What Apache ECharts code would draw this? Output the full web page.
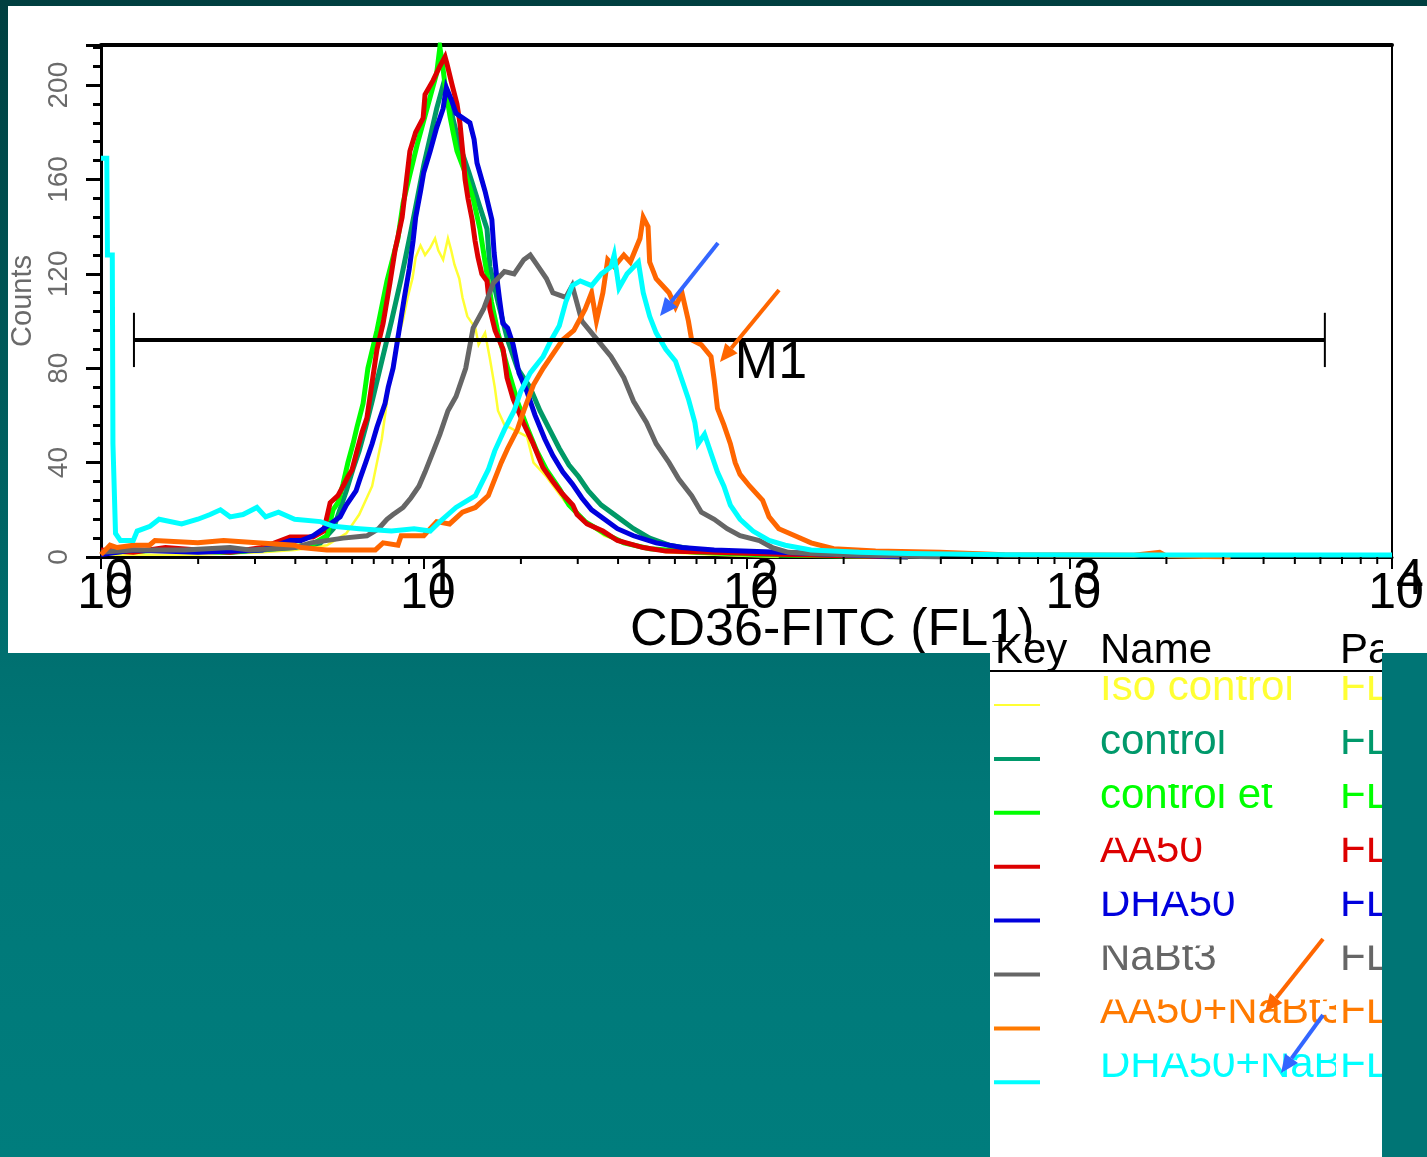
<!DOCTYPE html>
<html><head><meta charset="utf-8">
<script src="https://cdn.jsdelivr.net/npm/echarts@6/dist/echarts.min.js"></script>
<style>
html,body{margin:0;padding:0;width:1427px;height:1157px;overflow:hidden;
background:linear-gradient(180deg,#003f40 0%,#006565 45%,#007878 65%,#007d7d 100%);}
#c{width:1427px;height:1157px;}
</style></head><body><div id="c"></div>
<script>
// ---- data: [log10(FL1), count] ----
const isoControl = [[0.0,1],[0.3,1],[0.5,2],[0.6,3],[0.7,5],[0.76,10],[0.8,18],[0.84,30],[0.87,50],[0.895,75],[0.91,86],[0.92,93],[0.935,100],[0.95,110],[0.965,118],[0.975,127],[0.99,132],[1.004,128],[1.02,131],[1.035,135],[1.045,130],[1.06,126],[1.075,135],[1.085,130],[1.095,124],[1.11,118],[1.12,110],[1.135,102],[1.16,97],[1.17,90],[1.19,95],[1.205,84],[1.22,72],[1.23,62],[1.25,56],[1.32,51],[1.34,40],[1.38,34],[1.44,23],[1.5,15],[1.56,9],[1.65,5],[1.75,2],[1.9,1],[2.1,0]];
const control = [[0.0,2],[0.2,3],[0.4,2],[0.6,4],[0.68,6],[0.72,12],[0.74,20],[0.76,28],[0.78,37],[0.8,45],[0.82,55],[0.84,66],[0.87,83],[0.9,100],[0.93,118],[0.96,138],[0.98,152],[1.0,166],[1.02,178],[1.04,190],[1.06,200],[1.075,196],[1.09,186],[1.11,175],[1.14,163],[1.17,150],[1.196,139],[1.205,123],[1.23,108],[1.26,92],[1.29,80],[1.329,72],[1.36,62],[1.39,54],[1.42,46],[1.45,39],[1.48,34],[1.51,28],[1.55,22],[1.6,17],[1.65,12],[1.7,8],[1.76,5],[1.85,3],[2.0,2],[2.2,1],[2.5,0]];
const controlEt = [[0.0,2],[0.2,3],[0.4,2],[0.55,4],[0.65,5],[0.7,9],[0.719,20],[0.734,23],[0.75,31],[0.765,40],[0.781,48],[0.793,55],[0.812,65],[0.827,80],[0.855,96],[0.886,117],[0.92,135],[0.936,150],[0.957,162],[0.98,175],[1.0,185],[1.02,195],[1.04,205],[1.05,216],[1.057,210],[1.066,200],[1.081,187],[1.091,180],[1.103,172],[1.128,163],[1.153,152],[1.174,139],[1.19,125],[1.21,108],[1.23,95],[1.26,80],[1.29,66],[1.32,55],[1.35,45],[1.38,37],[1.42,29],[1.45,22],[1.5,15],[1.56,10],[1.62,6],[1.7,3.5],[1.85,2],[2.05,1],[2.3,0.4],[2.5,0]];
const aa50 = [[0.0,3],[0.1,2],[0.2,4],[0.3,3],[0.4,2],[0.5,4],[0.586,8.5],[0.657,8.5],[0.69,11],[0.71,23],[0.734,26],[0.75,30],[0.765,34],[0.778,37],[0.793,45],[0.809,53],[0.824,59],[0.84,74],[0.855,88],[0.874,99],[0.895,116],[0.911,130],[0.933,144],[0.957,172],[0.975,180],[0.998,186],[1.004,196],[1.029,202],[1.05,208],[1.066,212],[1.072,209],[1.088,200],[1.103,192],[1.112,184],[1.122,170],[1.128,160],[1.137,152],[1.15,143],[1.159,134],[1.168,127],[1.18,120],[1.196,117],[1.205,105],[1.221,96],[1.246,88],[1.258,76],[1.277,67],[1.308,57],[1.339,48],[1.369,38],[1.4,32],[1.428,27],[1.462,22],[1.475,18],[1.506,14],[1.555,11],[1.6,7],[1.68,4],[1.75,2.5],[1.9,2],[2.1,1.2],[2.3,0.5],[2.5,0]];
const dha50 = [[0.0,1],[0.05,2],[0.1,3],[0.3,2],[0.5,3],[0.586,7],[0.62,7],[0.657,9],[0.7,13],[0.741,17],[0.76,22],[0.79,28],[0.802,33],[0.82,40],[0.84,48],[0.855,55],[0.88,65],[0.89,72],[0.905,80],[0.92,93],[0.94,110],[0.955,122],[0.967,134],[0.975,144],[0.99,155],[1.0,163],[1.02,172],[1.04,182],[1.06,190],[1.07,199],[1.085,194],[1.1,188],[1.143,184],[1.156,177],[1.165,167],[1.19,155],[1.211,143],[1.218,129],[1.225,120],[1.235,109],[1.245,99],[1.26,97],[1.277,90],[1.295,78],[1.32,70],[1.345,60],[1.375,50],[1.4,43],[1.431,36],[1.46,31],[1.49,25],[1.52,20],[1.56,16],[1.6,12],[1.65,9],[1.72,6],[1.8,4],[1.9,3],[2.1,2],[2.3,1],[2.5,0]];
const nabt3 = [[0.0,2],[0.1,3],[0.26,3],[0.4,4],[0.46,3],[0.6,4],[0.65,6],[0.75,8],[0.824,9],[0.86,12],[0.886,16],[0.905,18],[0.936,21],[0.96,25],[0.985,30],[1.004,36],[1.03,45],[1.05,52],[1.075,62],[1.1,68],[1.13,80],[1.153,97],[1.185,105],[1.215,116],[1.25,121],[1.28,120],[1.31,126],[1.33,128],[1.35,124],[1.38,118],[1.4,112],[1.44,110],[1.46,115],[1.49,100],[1.52,95],[1.55,90],[1.58,85],[1.62,76],[1.65,66],[1.69,57],[1.72,48],[1.76,40],[1.79,33],[1.83,26],[1.86,19],[1.9,16],[1.94,12],[1.98,9],[2.04,7],[2.08,4],[2.13,2],[2.2,1.5],[2.3,1],[2.45,0.5],[2.6,0]];
const aa50Nabt3 = [[0.0,1],[0.028,5],[0.05,4],[0.1,5],[0.15,5],[0.167,7],[0.3,6],[0.38,7],[0.483,6],[0.6,5],[0.62,4],[0.7,3],[0.85,3],[0.874,6],[0.92,5],[0.93,9],[1.0,9],[1.04,15],[1.08,14],[1.12,19],[1.16,21],[1.2,26],[1.22,33],[1.24,40],[1.26,46],[1.29,54],[1.31,62],[1.34,73],[1.37,80],[1.4,86],[1.43,92],[1.465,96],[1.5,105],[1.52,112],[1.535,100],[1.555,112],[1.57,126],[1.59,123],[1.62,128],[1.64,125],[1.67,135],[1.68,144],[1.695,140],[1.7,125],[1.72,118],[1.76,112],[1.78,106],[1.8,112],[1.82,100],[1.83,92],[1.86,90],[1.89,85],[1.9,75],[1.91,63],[1.93,56],[1.95,48],[1.965,40],[1.98,35],[2.01,30],[2.05,24],[2.07,17],[2.1,12],[2.15,9],[2.2,6],[2.27,3.5],[2.4,2.5],[2.6,2],[2.8,1],[3.2,0.7],[3.28,2],[3.3,0.5],[3.5,0]];
const dha50Nabt3 = [[0.0,169],[0.018,169],[0.02,128],[0.035,128],[0.037,48],[0.045,10],[0.06,7],[0.1,7],[0.112,11],[0.152,13],[0.18,16],[0.25,14],[0.3,16],[0.338,18],[0.37,20],[0.4,17],[0.44,18],[0.483,21],[0.51,17],[0.55,19],[0.6,16],[0.68,15],[0.72,13],[0.8,12],[0.9,11],[0.97,12],[1.02,11],[1.05,15],[1.1,21],[1.16,26],[1.2,37],[1.22,45],[1.25,54],[1.28,62],[1.3,70],[1.33,78],[1.37,85],[1.395,92],[1.42,98],[1.44,108],[1.46,115],[1.485,117],[1.52,115],[1.55,120],[1.58,123],[1.59,128],[1.605,114],[1.63,120],[1.665,125],[1.68,112],[1.7,102],[1.72,95],[1.75,88],[1.78,83],[1.8,75],[1.82,67],[1.84,57],[1.85,48],[1.87,52],[1.89,44],[1.91,36],[1.93,30],[1.95,22],[1.98,16],[2.02,11],[2.07,7],[2.12,5],[2.2,3],[2.35,2],[2.5,1.5],[2.8,1],[3.2,0.8],[4.0,0.8]];

const seriesNames = ['Iso control','control','control et','AA50','DHA50','NaBt3','AA50+NaBt3','DHA50+NaBt3'];
const seriesColors = ['#ffff33','#009966','#00ff00','#dd0000','#0000dd','#666666','#ff6600','#00ffff'];
const legendColors = ['#ffff33','#00996b','#00ff00','#dd0000','#0000dd','#666666','#ff7a00','#00ffff'];
const legendParam = ['FL1','FL1','FL1','FL1','FL1','FL1','FL1','FL1'];
const seriesData = [isoControl, control, controlEt, aa50, dha50, nabt3, aa50Nabt3, dha50Nabt3];
const drawOrder = [0,1,2,3,4,5,6,7];

const xMin = 1, xMax = 10000;
const minorMultipliers = [2,3,4,5,6,7,8,9];
const yMin = 0, yMax = 217, yInterval = 40;

// M1 marker region
const m1Start = 1.265, m1End = 6194, m1Level = 92, m1CapHalf = 11.5, m1LabelX = 92;

const FONT = '"Liberation Sans", Arial, sans-serif';
const NARROW = '"Liberation Sans Narrow", "Liberation Sans", Arial, sans-serif';

const chart = echarts.init(document.getElementById('c'), null, {renderer:'canvas'});

const minorTickValues = [];
for (let n = 0; n < 4; n++) for (const k of minorMultipliers) minorTickValues.push([k * Math.pow(10, n), 0]);

const lineSeries = drawOrder.map(i => ({
  name: seriesNames[i], type: 'line', xAxisIndex: 0, yAxisIndex: 0,
  data: seriesData[i].map(p => [Math.pow(10, p[0]), p[1]]),
  showSymbol: false, symbol: 'none', silent: true, animation: false,
  lineStyle: {color: seriesColors[i], width: i === 0 ? 2.5 : 5, join: 'miter'},
  z: 3 + i
}));

function arrow(x1, y1, x2, y2, color, z) {
  const ang = Math.atan2(y2 - y1, x2 - x1), L = 18, W = 8;
  const bx = x2 - L * Math.cos(ang), by = y2 - L * Math.sin(ang);
  const nx = -Math.sin(ang), ny = Math.cos(ang);
  return [
    {type:'line', z, shape:{x1, y1, x2: bx, y2: by}, style:{stroke: color, lineWidth: 4}},
    {type:'polygon', z, shape:{points:[[x2,y2],[bx+nx*W,by+ny*W],[bx-nx*W,by-ny*W]]}, style:{fill: color}}
  ];
}

const graphics = [];
graphics.push({type:'rect', z:-10, silent:true, shape:{x:8, y:6, width:1419, height:647}, style:{fill:'#ffffff'}});
graphics.push({type:'text', z:50, left:630, top:605, style:{text:'CD36-FITC (FL1)', font:'52px ' + FONT, fill:'#000'}});
graphics.push({type:'rect', z:60, silent:true, shape:{x:0, y:653, width:990, height:504},
  style:{fill: new echarts.graphic.LinearGradient(0,0,0,1,[{offset:0,color:'#007070'},{offset:0.3,color:'#007878'},{offset:1,color:'#007d7d'}])}});
graphics.push({type:'rect', z:61, silent:true, shape:{x:990, y:642, width:392, height:515}, style:{fill:'#ffffff'}});
const rowBase = 703, rowStep = 53.9, midShift = 14.5;
for (let k = seriesNames.length - 1; k >= 0; k--) {
  const base = rowBase + k * rowStep;
  graphics.push({type:'rect', z:65, silent:true, shape:{x:990, y:base - 27, width:392, height:54}, style:{fill:'#fff'}});
  graphics.push({type:'text', z:65, x:1100, y:base - midShift, style:{text:seriesNames[k], font:'42px ' + FONT, fill:legendColors[k], verticalAlign:'middle'}});
  graphics.push({type:'text', z:65, x:1336, y:base - midShift, style:{text:legendParam[k], font:'42px ' + FONT, fill:legendColors[k], verticalAlign:'middle', backgroundColor:'#fff', padding:[0,0,0,4]}});
  graphics.push({type:'line', z:66, shape:{x1:994, y1:base + 2, x2:1040, y2:base + 2}, style:{stroke:legendColors[k], lineWidth: k === 0 ? 2 : 4}});
}
// header cell (covers first row's overflow)
graphics.push({type:'rect', z:67, silent:true, shape:{x:990, y:642, width:392, height:34}, style:{fill:'#fff'}});
graphics.push({type:'text', z:68, left:995, top:630, style:{text:'Key', font:'42px ' + FONT, fill:'#000'}});
graphics.push({type:'text', z:68, left:1100, top:630, style:{text:'Name', font:'42px ' + FONT, fill:'#000'}});
graphics.push({type:'text', z:68, left:1340, top:630, style:{text:'Param', font:'42px ' + FONT, fill:'#000'}});
graphics.push({type:'line', z:70, shape:{x1:990, y1:671, x2:1382, y2:671}, style:{stroke:'#000', lineWidth:2}});
graphics.push({type:'rect', z:80, silent:true, shape:{x:1383, y:628, width:44, height:25}, style:{fill:'#ffffff'}});
graphics.push({type:'rect', z:80, silent:true, shape:{x:1382, y:653, width:45, height:504}, style:{fill:'#007575'}});
graphics.push(...arrow(718, 243, 660, 316, '#3366ff', 40));
graphics.push(...arrow(779, 290, 720, 362, '#ff6600', 40));
graphics.push(...arrow(1323, 939, 1265, 1012, '#ff6600', 75));
graphics.push(...arrow(1323, 1015, 1281, 1073, '#3366ff', 75));

const option = {
  backgroundColor: 'transparent',
  animation: false,
  grid: {left:101, right:35, top:45, bottom:600, containLabel:false, outerBoundsMode:'none'},
  xAxis: [
    {type:'log', logBase:10, min:xMin, max:xMax, position:'bottom',
      axisLine:{lineStyle:{color:'#000', width:3}},
      axisTick:{length:12, lineStyle:{color:'#000', width:2}},
      axisLabel:{color:'#000', fontFamily:FONT, fontSize:50, margin:12, padding:[0,0,0,8],
        formatter: v => '10'},
      splitLine:{show:false}},
    {type:'log', logBase:10, min:xMin, max:xMax, position:'bottom',
      axisLine:{show:false}, axisTick:{show:false}, splitLine:{show:false},
      axisLabel:{color:'#000', fontFamily:FONT, fontSize:50, margin:-2, padding:[0,0,0,36],
        formatter: v => String(Math.round(Math.log10(v)))}},
    {type:'log', logBase:10, min:xMin, max:xMax, position:'top',
      axisLine:{lineStyle:{color:'#000', width:4}}, axisTick:{show:false}, axisLabel:{show:false}, splitLine:{show:false}}
  ],
  yAxis: [
    {type:'value', min:yMin, max:yMax, interval:yInterval, position:'left',
      name:'Counts', nameLocation:'middle', nameGap:63, nameRotate:90,
      nameTextStyle:{color:'#6a6a6a', fontFamily:NARROW, fontSize:29},
      axisLine:{show:true, lineStyle:{color:'#000', width:3}},
      axisTick:{show:true, length:15, lineStyle:{color:'#000', width:3}},
      minorTick:{show:true, splitNumber:5, length:8, lineStyle:{color:'#000', width:3}},
      axisLabel:{color:'#6a6a6a', fontFamily:NARROW, fontSize:28, rotate:90, margin:28, showMaxLabel:false},
      splitLine:{show:false}},
    {type:'value', min:yMin, max:yMax, position:'right',
      axisLine:{show:true, lineStyle:{color:'#000', width:2}}, axisTick:{show:false}, axisLabel:{show:false}, splitLine:{show:false}}
  ],
  series: [
    ...lineSeries,
    {type:'custom', name:'minor ticks', xAxisIndex:0, yAxisIndex:0, clip:false, silent:true, z:30,
      data: minorTickValues,
      renderItem: (params, api) => {
        const p = api.coord([api.value(0), api.value(1)]);
        return {type:'line', shape:{x1:p[0], y1:p[1], x2:p[0], y2:p[1] + 7}, style:{stroke:'#000', lineWidth:2}};
      }},
    {type:'custom', name:'M1', xAxisIndex:0, yAxisIndex:0, clip:false, silent:true, z:30,
      data: [[m1Start, m1End, m1Level, m1LabelX]],
      encode:{x:[0,1], y:2},
      renderItem: (params, api) => {
        const a = api.coord([api.value(0), api.value(2)]);
        const b = api.coord([api.value(1), api.value(2)]);
        const top = api.coord([api.value(0), api.value(2) + m1CapHalf])[1];
        const bot = api.coord([api.value(0), api.value(2) - m1CapHalf])[1];
        const t = api.coord([api.value(3), api.value(2)]);
        return {type:'group', children:[
          {type:'line', shape:{x1:a[0], y1:a[1], x2:b[0], y2:b[1]}, style:{stroke:'#000', lineWidth:4}},
          {type:'line', shape:{x1:a[0], y1:top, x2:a[0], y2:bot}, style:{stroke:'#000', lineWidth:2}},
          {type:'line', shape:{x1:b[0], y1:top, x2:b[0], y2:bot}, style:{stroke:'#000', lineWidth:2}},
          {type:'text', x:t[0], y:t[1] - 2, style:{text:'M1', font:'52px ' + FONT, fill:'#000', verticalAlign:'top'}}
        ]};
      }}
  ],
  graphic: {elements: graphics}
};
chart.setOption(option);
</script></body></html>
